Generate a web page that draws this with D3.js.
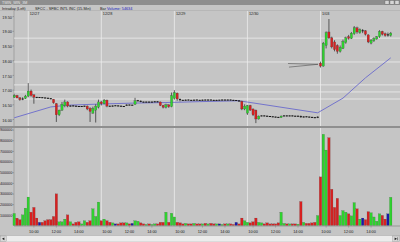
<!DOCTYPE html>
<html><head><meta charset="utf-8">
<script src="https://cdn.jsdelivr.net/npm/d3@7"></script>
<style>body{margin:0;background:#c5c5c5;overflow:hidden}svg{display:block}</style>
</head><body><svg id="c" width="400" height="242"></svg>
<script>
// ---------- data ----------
const days = ["12/27","12/28","12/29","12/30","1/03"];
const dayStart = [5,31,57,83,109];            // bar index of first bar of each session
const timeLabels = ["10:00","12:00","14:00"];
const timeBarOffset = [2,10,18];              // bars after session start
const open = [16.74,16.80,16.72,16.66,16.70,16.78,16.95,16.82,16.74,16.73,16.73,16.72,16.71,16.70,16.67,16.52,16.14,16.30,16.45,16.58,16.43,16.45,16.44,16.43,16.42,16.43,16.44,16.36,16.20,16.30,16.40,
16.58,16.52,16.64,16.44,16.43,16.45,16.45,16.44,16.43,16.46,16.48,16.47,16.50,16.61,16.62,16.58,16.57,16.58,16.57,16.58,16.59,16.58,16.46,16.40,16.48,16.42,
16.70,16.88,16.68,16.64,16.63,16.65,16.64,16.63,16.65,16.64,16.63,16.65,16.64,16.65,16.64,16.63,16.64,16.64,16.65,16.64,16.65,16.64,16.63,16.63,16.60,16.34,
16.20,16.46,16.34,16.30,16.00,16.10,16.11,16.10,16.09,16.08,16.07,16.06,16.05,16.10,16.11,16.10,16.11,16.10,16.09,16.10,16.06,16.08,16.07,16.06,16.05,16.04,
17.90,17.80,18.50,18.96,18.76,18.62,18.50,18.30,18.40,18.60,18.80,18.74,18.90,19.10,18.94,19.00,19.00,18.86,18.58,18.66,18.72,18.80,18.98,18.90,18.86,18.84];
const high = [16.84,16.82,16.74,16.74,16.82,17.22,17.00,16.84,16.75,16.74,16.74,16.73,16.72,16.71,16.68,16.54,16.32,16.58,16.66,16.60,16.46,16.46,16.45,16.44,16.44,16.45,16.46,16.40,16.42,16.50,16.66,
16.62,16.68,16.66,16.45,16.46,16.46,16.46,16.45,16.44,16.50,16.49,16.48,16.72,16.65,16.63,16.59,16.59,16.59,16.59,16.60,16.60,16.59,16.48,16.52,16.50,16.90,
16.98,16.90,16.70,16.65,16.66,16.66,16.65,16.66,16.66,16.65,16.66,16.66,16.66,16.66,16.65,16.65,16.65,16.66,16.66,16.66,16.66,16.65,16.64,16.64,16.62,16.50,
16.48,16.48,16.36,16.32,16.12,16.12,16.12,16.11,16.10,16.09,16.08,16.07,16.12,16.12,16.12,16.12,16.12,16.11,16.11,16.12,16.09,16.09,16.08,16.07,16.06,16.09,
17.95,18.62,18.98,19.40,18.80,18.68,18.54,18.50,18.70,18.80,18.86,18.96,19.16,19.14,19.08,19.06,19.02,18.88,18.72,18.78,18.82,19.02,19.00,18.94,18.94,18.96];
const low = [16.72,16.70,16.62,16.64,16.68,16.74,16.76,16.52,16.71,16.72,16.71,16.70,16.69,16.67,16.52,15.90,16.10,16.28,16.40,16.40,16.42,16.43,16.42,16.41,16.41,16.42,16.30,15.90,16.18,15.88,16.36,
16.46,16.50,16.40,16.42,16.42,16.44,16.43,16.42,16.41,16.45,16.46,16.46,16.48,16.60,16.57,16.56,16.56,16.56,16.56,16.57,16.57,16.44,16.36,16.36,16.38,16.40,
16.66,16.62,16.60,16.62,16.62,16.63,16.62,16.62,16.63,16.62,16.62,16.63,16.63,16.63,16.62,16.62,16.63,16.63,16.63,16.63,16.63,16.62,16.62,16.58,16.30,16.30,
16.14,16.28,16.10,15.86,15.98,16.09,16.09,16.08,16.07,16.06,16.05,16.04,16.04,16.09,16.09,16.09,16.09,16.08,16.08,16.04,16.05,16.06,16.05,16.04,16.03,16.03,
17.75,17.78,18.40,18.72,18.40,18.30,18.22,18.26,18.38,18.56,18.70,18.72,18.86,18.90,18.90,18.92,18.84,18.58,18.54,18.62,18.70,18.76,18.84,18.80,18.80,18.80];
const close = [16.80,16.72,16.66,16.70,16.78,16.95,16.80,16.74,16.73,16.73,16.72,16.71,16.70,16.68,16.55,16.14,16.30,16.50,16.58,16.44,16.45,16.44,16.43,16.42,16.43,16.44,16.34,16.26,16.36,16.44,16.58,
16.52,16.64,16.44,16.43,16.45,16.45,16.44,16.43,16.42,16.48,16.47,16.47,16.62,16.63,16.58,16.57,16.58,16.57,16.58,16.59,16.58,16.46,16.40,16.48,16.42,16.80,
16.90,16.68,16.64,16.63,16.65,16.64,16.63,16.65,16.64,16.63,16.65,16.64,16.65,16.64,16.63,16.64,16.64,16.65,16.64,16.65,16.64,16.63,16.63,16.60,16.34,16.44,
16.46,16.30,16.14,16.00,16.10,16.11,16.10,16.09,16.08,16.07,16.06,16.05,16.10,16.11,16.10,16.11,16.10,16.09,16.10,16.06,16.08,16.07,16.06,16.05,16.04,16.08,
17.80,18.58,18.94,18.76,18.45,18.36,18.30,18.44,18.64,18.76,18.74,18.92,19.10,18.96,19.04,19.00,18.88,18.62,18.68,18.74,18.80,18.98,18.88,18.84,18.86,18.92];
const volume = [113000,69000,55000,100000,163000,267000,125000,170000,70000,30000,30000,45000,55000,55000,85000,297000,35000,35000,60000,100000,35000,15000,30000,35000,15000,45000,30000,45000,157000,85000,220000,
45000,60000,45000,30000,25000,15000,15000,25000,25000,25000,15000,20000,45000,40000,25000,15000,10000,15000,10000,15000,15000,30000,30000,125000,30000,115000,
80000,30000,25000,15000,20000,15000,15000,20000,15000,15000,15000,20000,15000,20000,15000,15000,15000,10000,15000,15000,15000,10000,30000,15000,70000,45000,
30000,25000,35000,70000,30000,25000,15000,25000,15000,15000,15000,25000,125000,20000,15000,15000,15000,15000,12000,225000,30000,20000,20000,25000,30000,94000,
456000,856000,708000,824000,340000,170000,255000,94000,140000,125000,110000,90000,215000,157000,60000,70000,55000,130000,120000,80000,40000,110000,95000,60000,110000,265000];
const maIdx = [0,13,19,31,42,54,66,80,108,117,125,134];
const maVal = [16.04,16.41,16.47,16.51,16.54,16.56,16.59,16.62,16.21,16.71,17.40,18.08];
const priceTicks = [16.00,16.50,17.00,17.50,18.00,18.50,19.00,19.50];
const volTicks = [100000,200000,300000,400000,500000,600000,700000,800000,900000];
const userLines = [18.75,17.94,17.16,16.92,16.68];
const infoParts = ["Intraday (Left)","SFCC - SFBC INTL INC (15-Min)","Bar","Volume: 54634"];

// ---------- layout ----------
const N = close.length;
const W = 400, BG = "#c5c5c5";
const P = {top:11, bottom:126}, V = {top:128, bottom:225.5};
const svg = d3.select("#c");
const FONT = "Liberation Sans, Arial, sans-serif";

const x = d3.scaleBand().domain(d3.range(N)).range([12.8, 12.8 + N*2.81]).paddingInner(0.12).paddingOuter(0.06);
const cx = i => x(i) + x.bandwidth()/2;
const yP = d3.scaleLinear().domain([15.762, 19.673]).range([P.bottom, P.top]);
const yV = d3.scaleLinear().domain([0, 915000]).range([V.bottom, V.top]);

svg.append("rect").attr("width",W).attr("height",242).attr("fill",BG);
// title bar
svg.append("rect").attr("width",W).attr("height",5).attr("fill","#8e8e8e");
svg.append("text").attr("x",2).attr("y",3.8).attr("font-size",3.6).attr("fill","#e8e8e8").attr("font-family",FONT).text("TWIN_WIN_3M");
[385,390,395].forEach(bx=>svg.append("rect").attr("x",bx).attr("y",0.6).attr("width",4).attr("height",3.6).attr("fill","#d6d6d6").attr("stroke","#555").attr("stroke-width",0.3));

// info row
const infoX = [2,35,100,107];
infoParts.forEach((t,k)=>svg.append("text").attr("x",infoX[k]).attr("y",9.6).attr("font-size",3.8)
  .attr("font-family",FONT).attr("fill",k===3?"#2020c0":"#202020").text(t));

// panel borders / separator
svg.append("rect").attr("x",0).attr("y",P.bottom).attr("width",W).attr("height",V.top-P.bottom).attr("fill","#8f8f8f");
svg.append("line").attr("x1",14).attr("x2",14).attr("y1",P.top).attr("y2",P.bottom).attr("stroke","#8a8a8a").attr("stroke-width",0.6);
svg.append("line").attr("x1",14).attr("x2",14).attr("y1",V.top).attr("y2",V.bottom).attr("stroke","#8a8a8a").attr("stroke-width",0.6);
svg.append("line").attr("x1",0).attr("x2",W).attr("y1",P.top-0.5).attr("y2",P.top-0.5).attr("stroke","#a8a8a8").attr("stroke-width",0.5);

// day separators
dayStart.forEach((d,k)=>{
  [[P.top,P.bottom],[V.top,V.bottom]].forEach(([a,b])=>svg.append("line").attr("x1",cx(d)).attr("x2",cx(d)).attr("y1",a).attr("y2",b)
     .attr("stroke","#e8e8e8").attr("stroke-width",0.9));
  svg.append("text").attr("x",cx(d)+1.5).attr("y",P.top+3.8).attr("font-size",3.8).attr("font-family",FONT).attr("fill","#202020").text(days[k]);
});

// user horizontal lines
userLines.forEach(v=>svg.append("line").attr("x1",14).attr("x2",W).attr("y1",yP(v)).attr("y2",yP(v)).attr("stroke","#eeeeee").attr("stroke-width",0.8));

// price axis labels
const yAxis = d3.axisLeft(yP).tickValues(priceTicks).tickFormat(d3.format(".2f")).tickSize(1.5).tickPadding(0.5);
const ga = svg.append("g").attr("transform","translate(14,0)").call(yAxis);
ga.select(".domain").remove();
ga.selectAll("text").attr("font-size",3.9).attr("font-family",FONT).attr("fill","#202020").attr("dy","0.55em");
ga.selectAll("line").attr("stroke","#606060").attr("stroke-width",0.4);

// MA line
svg.append("path").datum(maIdx.map((d,k)=>[cx(d),yP(maVal[k])]))
  .attr("d",d3.line()).attr("fill","none").attr("stroke","#6a6acc").attr("stroke-width",0.9);

// arrow annotation (pointing at gap open)
const tip = [cx(dayStart[4]) - 2.5, yP(17.86)];
[[-30,-0.8],[-29,2.8]].forEach(([dx,dy])=>svg.append("line").attr("x1",tip[0]+dx).attr("y1",tip[1]+dy).attr("x2",tip[0]).attr("y2",tip[1])
   .attr("stroke","#505050").attr("stroke-width",0.6));

const col = i => close[i] > open[i] ? "#2ed22e" : close[i] < open[i] ? "#d82020" : "#1818a8";

// candles
const cg = svg.append("g");
d3.range(N).forEach(i=>{
  cg.append("line").attr("x1",cx(i)).attr("x2",cx(i)).attr("y1",yP(high[i])).attr("y2",yP(low[i])).attr("stroke","#262626").attr("stroke-width",0.7);
  const y1 = yP(Math.max(open[i],close[i])), y2 = yP(Math.min(open[i],close[i]));
  const h = y2 - y1;
  if (h < 1.2) {
    cg.append("rect").attr("x",cx(i)-1.1).attr("y",(y1+y2)/2-0.5).attr("width",2.2).attr("height",1).attr("fill","#141414");
  } else {
    cg.append("rect").attr("x",cx(i)-1.1).attr("y",y1).attr("width",2.2).attr("height",h).attr("fill",col(i))
      .attr("stroke","#303030").attr("stroke-width",0.2);
  }
});

// volume axis labels
const vAxis = d3.axisLeft(yV).tickValues(volTicks).tickFormat(d3.format("d")).tickSize(1.5).tickPadding(0.3);
const gv = svg.append("g").attr("transform","translate(14,0)").call(vAxis);
gv.select(".domain").remove();
gv.selectAll("text").attr("font-size",3.7).attr("font-family",FONT).attr("fill","#202020");
gv.selectAll("line").attr("stroke","#606060").attr("stroke-width",0.4);

// volume bars
svg.append("g").selectAll("rect").data(volume).join("rect")
  .attr("x",(d,i)=>x(i)).attr("width",x.bandwidth())
  .attr("y",d=>yV(d)).attr("height",d=>yV(0)-yV(d))
  .attr("fill",(d,i)=>col(i)).attr("stroke","#3a3a3a").attr("stroke-width",0.15);

// baseline
svg.append("line").attr("x1",14).attr("x2",W).attr("y1",V.bottom+0.5).attr("y2",V.bottom+0.5).attr("stroke","#7a7a7a").attr("stroke-width",0.6);

// time labels
dayStart.forEach(d=>timeLabels.forEach((t,k)=>{
  const xi = cx(d + timeBarOffset[k]);
  svg.append("line").attr("x1",xi).attr("x2",xi).attr("y1",V.bottom+0.8).attr("y2",V.bottom+2).attr("stroke","#606060").attr("stroke-width",0.4);
  svg.append("text").attr("x",xi).attr("y",233).attr("text-anchor","middle").attr("font-size",3.8).attr("font-family",FONT).attr("fill","#202020").text(t);
}));

// scrollbar
svg.append("rect").attr("x",0).attr("y",235.5).attr("width",W).attr("height",6.5).attr("fill","#ececec").attr("stroke","#9a9a9a").attr("stroke-width",0.4);
svg.append("rect").attr("x",0.3).attr("y",236).attr("width",6).attr("height",5.6).attr("fill","#d8d8d8").attr("stroke","#808080").attr("stroke-width",0.3);
svg.append("rect").attr("x",392.5).attr("y",236).attr("width",7).attr("height",5.6).attr("fill","#d8d8d8").attr("stroke","#808080").attr("stroke-width",0.3);
svg.append("path").attr("d","M4.4,237.4 L2,238.8 L4.4,240.2Z").attr("fill","#202020");
svg.append("path").attr("d","M394.6,237.4 L397,238.8 L394.6,240.2Z").attr("fill","#202020");
svg.append("line").attr("x1",397.6).attr("x2",397.6).attr("y1",237.3).attr("y2",240.3).attr("stroke","#202020").attr("stroke-width",0.5);
</script></body></html>
